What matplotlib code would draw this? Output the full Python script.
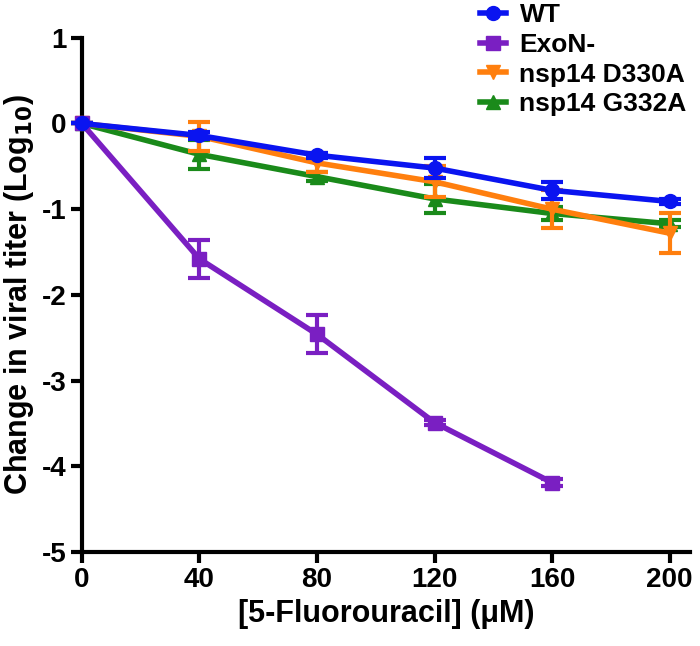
import matplotlib as mpl
import matplotlib.pyplot as plt
from matplotlib.lines import Line2D
mpl.use('Agg')

plt.rcParams['font.family'] = ['Liberation Sans', 'DejaVu Sans']
plt.rcParams['font.weight'] = 'bold'
plt.rcParams['axes.unicode_minus'] = False

# 5-FU concentration (uM)
conc = [0, 40, 80, 120, 160, 200]
conc_exon = [0, 40, 80, 120, 160]

# change in viral titer (log10) and error
wt = [0, -0.14, -0.37, -0.52, -0.78, -0.91]
wt_err = [0, 0.04, 0.03, 0.12, 0.10, 0.03]
exon = [0, -1.58, -2.46, -3.49, -4.19]
exon_err = [0, 0.22, 0.22, 0.03, 0.04]
d330a = [0, -0.15, -0.46, -0.68, -1.00, -1.28]
d330a_err = [0, 0.17, 0.11, 0.18, 0.22, 0.23]
g332a = [0, -0.36, -0.62, -0.88, -1.05, -1.17]
g332a_err = [0, 0.17, 0.05, 0.17, 0.08, 0.04]

names = ['WT', 'ExoN-', 'nsp14 D330A', 'nsp14 G332A']
markers = ['o', 's', 'v', '^']
colors = ['#0a14f0', '#7a1fc2', '#ff7f0e', '#1a8a1a']

fig = plt.figure(figsize=(7, 6.46), dpi=100)
ax = fig.add_axes([0.117, 0.1455, 0.869, 0.796])

series = [
    (conc, g332a, g332a_err, 3, 3),
    (conc, d330a, d330a_err, 2, 4),
    (conc_exon, exon, exon_err, 1, 5),
    (conc, wt, wt_err, 0, 6),
]
for x, y, e, i, z in series:
    ax.errorbar(x, y, yerr=e, color=colors[i], marker=markers[i], markersize=10,
                lw=4, elinewidth=3, capsize=8, capthick=3, zorder=z,
                clip_on=False)

ax.set_xlim(0, 207)
ax.set_ylim(-5, 1)
ax.set_xticks(conc)
ax.set_yticks(range(-5, 2))
for s in ['top', 'right']:
    ax.spines[s].set_visible(False)
for s in ['left', 'bottom']:
    ax.spines[s].set_linewidth(3)
ax.tick_params(width=3, length=8, labelsize=20, pad=3)
for t in ax.get_xticklabels() + ax.get_yticklabels():
    t.set_fontweight('bold')

ax.set_xlabel('[5-Fluorouracil] (μM)', fontsize=22,
              fontweight='bold', labelpad=4)
ax.set_ylabel('Change in viral titer (Log$_{\\mathbf{10}}$)', fontsize=22,
              fontweight='bold', labelpad=4)

handles = [Line2D([], [], color=c, marker=m, markersize=10, lw=4)
           for c, m in zip(colors, markers)]
fig.legend(handles, names, loc='upper right', bbox_to_anchor=(1.015, 1.032),
           frameon=False, handlelength=1.0, handletextpad=0.5,
           labelspacing=0.22, prop={'weight': 'bold', 'size': 19})

fig.savefig('out.png', dpi=100)
